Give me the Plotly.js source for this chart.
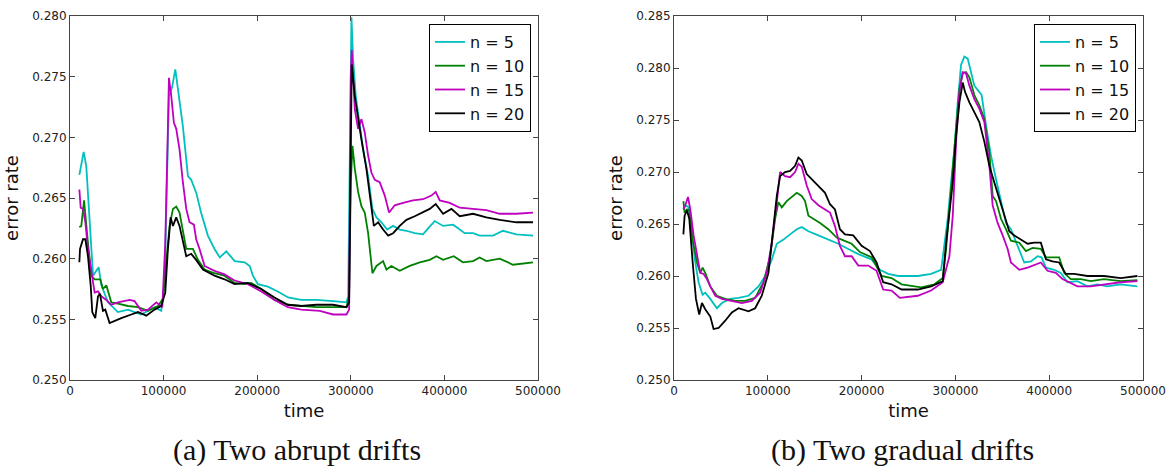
<!DOCTYPE html>
<html>
<head>
<meta charset="utf-8">
<script src="https://cdn.plot.ly/plotly-3.0.1.min.js"></script>
<style>html,body{margin:0;padding:0;background:#fff;}#chart{width:1168px;height:472px;}</style>
</head>
<body>
<div id="chart"></div>
<script>
// ---- Data: (a) Two abrupt drifts ----
const seriesNames = ['n = 5', 'n = 10', 'n = 15', 'n = 20'];
const captionA = '(a) Two abrupt drifts';
const captionB = '(b) Two gradual drifts';

const aTime5 = [10000,14600,17400,21000,24600,30600,33500,40600,51200,62000,76000,90400,97500,101000,103500,105700,109000,112500,115300,120600,126000,129500,135000,140000,147300,154400,160000,167000,176000,186500,192000,195400,200700,211400,222000,233000,247000,263300,281000,295400,297200,299000,300700,302500,305300,307800,313200,318500,323100,327400,332700,338800,345200,352300,359400,368300,377200,382600,389700,398600,409300,421700,430600,437700,452000,462600,476900,494700];
const aErr5 = [0.2669,0.2688,0.2676,0.2635,0.2586,0.2593,0.2578,0.2564,0.2556,0.2558,0.2554,0.2560,0.2557,0.2580,0.2668,0.2734,0.2741,0.2756,0.2740,0.2709,0.2668,0.2665,0.2654,0.2638,0.2619,0.2608,0.2601,0.2606,0.2598,0.2597,0.2594,0.2586,0.2579,0.2577,0.2573,0.2568,0.2566,0.2566,0.2565,0.2564,0.2569,0.2696,0.2799,0.2764,0.2734,0.2720,0.2690,0.2668,0.2641,0.2634,0.2630,0.2624,0.2627,0.2624,0.2623,0.2621,0.2620,0.2625,0.2631,0.2627,0.2628,0.2621,0.2621,0.2619,0.2619,0.2623,0.2620,0.2619];

const aTime10 = [10000,12100,15000,16400,19200,22800,26300,32400,35200,38800,44100,51200,62000,72600,83300,94000,99300,102800,106400,110000,113500,117000,120600,124200,131300,136700,143800,154400,165000,175800,186500,193600,204300,218500,232700,247000,263300,281000,295400,298200,300000,301800,304300,307800,311400,314900,318500,323100,327400,334500,338100,343400,352300,363000,373700,384300,391500,398600,410000,419900,430600,437700,444800,459100,473300,494700];
const aErr10 = [0.2626,0.2627,0.2648,0.2635,0.2613,0.2586,0.2583,0.2583,0.2575,0.2578,0.2564,0.2563,0.2561,0.2560,0.2557,0.2561,0.2567,0.2597,0.2627,0.2641,0.2643,0.2638,0.2624,0.2608,0.2608,0.2599,0.2591,0.2588,0.2586,0.2580,0.2579,0.2580,0.2575,0.2566,0.2562,0.2561,0.2560,0.2560,0.2560,0.2569,0.2663,0.2693,0.2674,0.2655,0.2643,0.2638,0.2621,0.2588,0.2594,0.2598,0.2591,0.2594,0.2590,0.2594,0.2597,0.2599,0.2602,0.2599,0.2602,0.2597,0.2598,0.2601,0.2598,0.2600,0.2595,0.2597];

const aTime15 = [10000,11400,13900,16400,19200,22800,26300,29900,33500,38800,44100,51200,63700,69000,76200,83300,92200,98600,101800,104600,105700,108200,111000,113500,117000,120600,124200,127700,132400,134800,138400,143800,154400,165100,175800,190000,204300,218500,232700,247000,266900,281000,295400,298200,300000,301000,304300,307800,311400,314900,318500,322000,325600,330900,336300,340900,347000,355900,366500,377200,386100,390700,395000,405700,416400,430600,444800,459100,476900,494700];
const aErr15 = [0.2657,0.2642,0.2641,0.2630,0.2608,0.2588,0.2572,0.2573,0.2569,0.2566,0.2562,0.2564,0.2566,0.2565,0.2557,0.2558,0.2564,0.2560,0.2613,0.2709,0.2749,0.2734,0.2712,0.2707,0.2690,0.2663,0.2641,0.2630,0.2628,0.2616,0.2608,0.2594,0.2590,0.2587,0.2582,0.2579,0.2573,0.2566,0.2560,0.2558,0.2557,0.2554,0.2554,0.2558,0.2751,0.2772,0.2723,0.2707,0.2715,0.2704,0.2685,0.2671,0.2665,0.2663,0.2652,0.2638,0.2644,0.2646,0.2648,0.2649,0.2652,0.2655,0.2648,0.2646,0.2642,0.2641,0.2640,0.2637,0.2637,0.2638];

const aTime20 = [10000,10700,13900,16400,19200,22100,23800,27000,29900,32000,35200,37700,42300,47700,54800,65500,72600,81500,90400,97500,101800,104600,107500,110000,113500,117000,120600,124200,129500,134800,142000,154400,165100,175800,190000,204300,218500,232700,247000,263300,281000,295400,298200,300000,301000,304300,307800,311400,316700,321000,324600,329200,334500,339900,345200,352300,359400,368300,377200,384300,390700,398600,407500,416400,430600,444800,459100,476900,494700];
const aErr20 = [0.2597,0.2608,0.2616,0.2616,0.2602,0.2578,0.2556,0.2551,0.2569,0.2571,0.2557,0.2558,0.2547,0.2549,0.2551,0.2554,0.2556,0.2553,0.2558,0.2561,0.2572,0.2608,0.2634,0.2627,0.2634,0.2627,0.2613,0.2602,0.2604,0.2599,0.2591,0.2586,0.2583,0.2579,0.2580,0.2575,0.2568,0.2562,0.2561,0.2562,0.2562,0.2560,0.2564,0.2737,0.2760,0.2734,0.2715,0.2698,0.2674,0.2646,0.2627,0.2630,0.2624,0.2619,0.2621,0.2627,0.2632,0.2635,0.2638,0.2641,0.2645,0.2637,0.2641,0.2635,0.2637,0.2634,0.2632,0.2630,0.2630];

// ---- Data: (b) Two gradual drifts ----
const bTime5 = [10000,12100,15600,19100,22700,26200,30500,33300,38700,45700,51100,59900,68800,79400,90100,97200,104300,109600,116700,123800,130900,136200,143300,153900,164500,175200,185800,196500,210600,219500,228400,239000,259900,274100,284800,288300,291800,295400,298900,302500,306000,309600,313100,316700,320200,324500,328000,332600,337900,343300,348600,353900,359200,366300,373400,380500,387600,391800,396500,405300,412400,419500,430100,440800,451400,462100,476200,494000];
const bErr5 = [0.2664,0.2668,0.2666,0.2639,0.2613,0.2594,0.2582,0.2584,0.2578,0.2569,0.2574,0.2578,0.2579,0.2581,0.2590,0.2600,0.2616,0.2631,0.2635,0.2640,0.2645,0.2647,0.2643,0.2639,0.2635,0.2631,0.2626,0.2621,0.2616,0.2606,0.2602,0.2600,0.2600,0.2602,0.2606,0.2629,0.2655,0.2690,0.2722,0.2767,0.2803,0.2811,0.2809,0.2796,0.2783,0.2778,0.2774,0.2745,0.2716,0.2693,0.2671,0.2651,0.2645,0.2629,0.2613,0.2614,0.2619,0.2618,0.2608,0.2606,0.2603,0.2594,0.2595,0.2590,0.2592,0.2590,0.2592,0.2590];

const bTime10 = [10000,11300,13800,16300,19900,24500,28000,30500,33300,38700,45700,54600,65200,75900,86500,95400,102500,107800,111300,114900,120200,125500,130900,136200,139700,143300,148600,155700,164500,173400,178700,189400,198200,210600,221300,231900,242600,263500,277700,286500,290100,293600,297200,300700,304300,307800,311300,314900,320200,325500,330900,336200,339700,343300,348600,353900,359200,368100,375200,382300,391100,396500,403500,410600,416000,423000,433700,444300,458500,476200,494000];
const bErr10 = [0.2672,0.2661,0.2664,0.2663,0.2635,0.2613,0.2603,0.2608,0.2603,0.2590,0.2581,0.2578,0.2576,0.2576,0.2579,0.2594,0.2619,0.2655,0.2671,0.2666,0.2672,0.2676,0.2680,0.2677,0.2672,0.2658,0.2655,0.2651,0.2645,0.2637,0.2635,0.2631,0.2623,0.2618,0.2600,0.2598,0.2592,0.2589,0.2592,0.2598,0.2626,0.2664,0.2696,0.2735,0.2780,0.2795,0.2796,0.2791,0.2774,0.2764,0.2751,0.2719,0.2677,0.2672,0.2655,0.2645,0.2634,0.2632,0.2624,0.2627,0.2626,0.2618,0.2618,0.2618,0.2603,0.2597,0.2597,0.2595,0.2597,0.2595,0.2596];

const bTime15 = [10000,12100,14900,17400,20900,24500,28000,31600,35100,38700,44000,51100,61700,72300,83000,91800,98900,104300,109600,113100,118400,123800,129100,132600,136200,141500,146800,153900,161000,166300,171600,176900,182300,189400,196500,207100,215900,223000,231900,240800,259900,274100,286500,293600,297200,300700,304300,307800,311300,314900,320200,325500,330900,336200,339700,345000,350400,355700,359200,368100,377000,385800,391100,398200,407100,414200,421300,430100,444300,458500,476200,494000];
const bErr15 = [0.2664,0.2668,0.2676,0.2664,0.2639,0.2619,0.2603,0.2602,0.2597,0.2590,0.2581,0.2578,0.2576,0.2574,0.2576,0.2584,0.2603,0.2632,0.2671,0.2700,0.2696,0.2695,0.2700,0.2708,0.2705,0.2687,0.2674,0.2668,0.2664,0.2661,0.2648,0.2629,0.2619,0.2619,0.2610,0.2610,0.2605,0.2587,0.2586,0.2579,0.2581,0.2586,0.2594,0.2619,0.2658,0.2729,0.2777,0.2796,0.2795,0.2783,0.2770,0.2761,0.2748,0.2706,0.2668,0.2651,0.2639,0.2626,0.2613,0.2606,0.2608,0.2611,0.2613,0.2605,0.2603,0.2597,0.2594,0.2590,0.2590,0.2592,0.2594,0.2595];

const bTime20 = [10000,11300,13800,16300,19900,23400,26900,29800,33300,38700,42200,47500,54600,61700,68800,79400,86500,93600,100700,106000,109600,113100,118400,123800,129100,132600,136200,141500,146800,153900,161000,166300,171600,176900,182300,191100,200000,208900,215900,223000,231900,242600,259900,274100,286500,290100,293600,297200,300700,304300,307800,310300,314900,320200,325500,330900,336200,341500,346800,352100,357400,362800,369900,377000,384000,391100,396500,403500,410600,417700,426600,440800,458500,476200,494000];
const bErr20 = [0.2640,0.2658,0.2663,0.2655,0.2613,0.2578,0.2563,0.2574,0.2568,0.2561,0.2549,0.2550,0.2557,0.2565,0.2569,0.2566,0.2569,0.2581,0.2603,0.2648,0.2677,0.2696,0.2700,0.2701,0.2706,0.2714,0.2711,0.2698,0.2693,0.2687,0.2680,0.2669,0.2664,0.2645,0.2640,0.2639,0.2629,0.2624,0.2613,0.2594,0.2592,0.2587,0.2587,0.2590,0.2595,0.2632,0.2658,0.2690,0.2735,0.2767,0.2786,0.2777,0.2767,0.2758,0.2748,0.2729,0.2706,0.2690,0.2674,0.2658,0.2643,0.2639,0.2635,0.2631,0.2632,0.2632,0.2616,0.2614,0.2613,0.2602,0.2602,0.2600,0.2600,0.2598,0.2600];

// ---- Styles ----
const colors = ['#00bfbf', '#008000', '#bf00bf', '#000000'];
const FONT = 'DejaVu Sans, sans-serif';

const aSets = [[aTime5, aErr5], [aTime10, aErr10], [aTime15, aErr15], [aTime20, aErr20]];
const bSets = [[bTime5, bErr5], [bTime10, bErr10], [bTime15, bErr15], [bTime20, bErr20]];

const traces = [];
aSets.forEach((s, i) => traces.push({
  x: s[0], y: s[1], type: 'scatter', mode: 'lines', name: seriesNames[i],
  line: {color: colors[i], width: 1.8}, xaxis: 'x', yaxis: 'y', legend: 'legend'
}));
bSets.forEach((s, i) => traces.push({
  x: s[0], y: s[1], type: 'scatter', mode: 'lines', name: seriesNames[i],
  line: {color: colors[i], width: 1.8}, xaxis: 'x2', yaxis: 'y2', legend: 'legend2'
}));

function xAx(domain, anchor) {
  return {
    domain: domain, anchor: anchor, range: [0, 500000], dtick: 100000, tick0: 0,
    tickformat: 'd', showgrid: false, zeroline: false,
    showline: true, linecolor: '#444', linewidth: 1, mirror: 'ticks',
    ticks: 'inside', ticklen: 5, tickcolor: '#444',
    tickfont: {family: FONT, size: 12, color: '#222'},
    title: {text: 'time', font: {family: FONT, size: 18, color: '#111'}, standoff: 6}
  };
}
function yAx(domain, anchor, range) {
  return {
    domain: domain, anchor: anchor, range: range, dtick: 0.005, tick0: 0.25,
    tickformat: '.3f', showgrid: false, zeroline: false,
    showline: true, linecolor: '#444', linewidth: 1, mirror: 'ticks',
    ticks: 'inside', ticklen: 5, tickcolor: '#444',
    tickfont: {family: FONT, size: 12, color: '#222'},
    title: {text: 'error rate', font: {family: FONT, size: 18, color: '#111'}, standoff: 8}
  };
}
const yDom = [1 - 380/472, 1 - 16/472];

function legendAt(xr) {
  return {
    x: xr, y: 1 - 24/472, xanchor: 'right', yanchor: 'top',
    bgcolor: '#fff', bordercolor: '#000', borderwidth: 1,
    font: {family: FONT, size: 16, color: '#111'}, tracegroupgap: 0
  };
}

const layout = {
  width: 1168, height: 472,
  margin: {l: 0, r: 0, t: 0, b: 0},
  paper_bgcolor: '#fff', plot_bgcolor: '#fff',
  font: {family: FONT},
  xaxis: xAx([70/1168, 538/1168], 'y'),
  yaxis: yAx(yDom, 'x', [0.25, 0.28]),
  xaxis2: xAx([674/1168, 1143/1168], 'y2'),
  yaxis2: yAx(yDom, 'x2', [0.25, 0.285]),
  legend: legendAt(531/1168),
  legend2: legendAt(1136/1168),
  annotations: [
    {text: captionA, xref: 'paper', yref: 'paper', x: 297/1168, y: 1 - 450/472,
     xanchor: 'center', yanchor: 'middle', showarrow: false,
     font: {family: 'Liberation Serif, serif', size: 30, color: '#111'}},
    {text: captionB, xref: 'paper', yref: 'paper', x: 902/1168, y: 1 - 450/472,
     xanchor: 'center', yanchor: 'middle', showarrow: false,
     font: {family: 'Liberation Serif, serif', size: 30, color: '#111'}}
  ]
};

Plotly.newPlot('chart', traces, layout, {staticPlot: true, displayModeBar: false});
</script>
</body>
</html>
